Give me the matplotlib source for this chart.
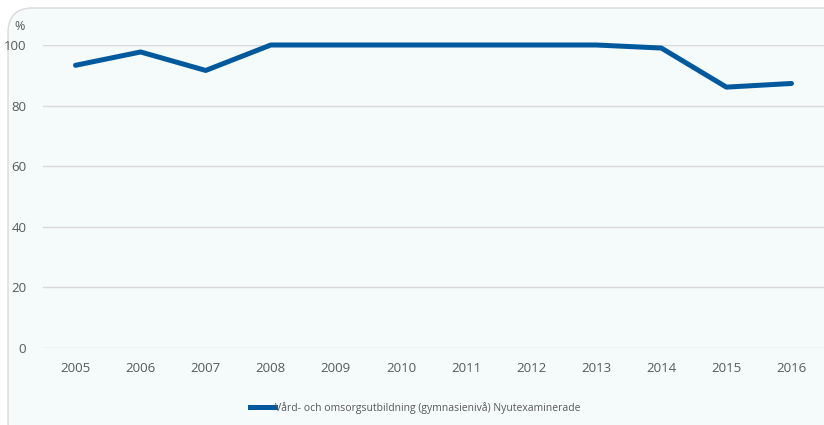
import matplotlib
matplotlib.use("Agg")
import matplotlib.pyplot as plt
from matplotlib.patches import FancyBboxPatch
from matplotlib.lines import Line2D

years = ["2005", "2006", "2007", "2008", "2009", "2010", "2011", "2012", "2013", "2014", "2015", "2016"]
values = [93.3, 97.7, 91.6, 100.0, 100.0, 100.0, 100.0, 100.0, 100.0, 99.0, 86.1, 87.3]
series_name = "Vård- och omsorgsutbildning (gymnasienivå) Nyutexaminerade"
yticks = [0, 20, 40, 60, 80, 100]

W, H = 824, 425
fig = plt.figure(figsize=(W / 100, H / 100), dpi=100)
fig.patch.set_facecolor("white")

y0 = -0.05
y1 = 1 - 8 / H
bg = FancyBboxPatch((8 / W, y0), 1.1, y1 - y0,
                    boxstyle="round,pad=0,rounding_size=0.03",
                    transform=fig.transFigure, facecolor="#F5FAFB", edgecolor="#D9D9D9",
                    linewidth=1.0, mutation_aspect=W / H, zorder=-10)
fig.patches.append(bg)

ax = fig.add_axes([43 / W, (H - 348) / H, (W - 43) / W, (348 - 45) / H])
ax.set_facecolor("none")
x = list(range(len(years)))
ax.plot(x, values, color="#00599C", linewidth=3.6, solid_capstyle="round", solid_joinstyle="round",
        clip_on=False)
ax.set_xlim(-0.5, len(years) - 0.5)
ax.set_ylim(0, 100)
ax.set_yticks(yticks)
ax.set_xticks(x)
ax.set_xticklabels(years)
for s in ax.spines.values():
    s.set_visible(False)
ax.grid(axis="y", color="#D9D9D9", linewidth=1.0)
ax.set_axisbelow(True)
ax.tick_params(axis="both", length=0, labelsize=9.5, labelcolor="#595959")
ax.tick_params(axis="y", pad=12)
ax.tick_params(axis="x", pad=10)
for t in ax.get_xticklabels() + ax.get_yticklabels():
    t.set_fontfamily("Open Sans")

fig.text(20 / W, 1 - 27 / H, "%", fontsize=9, color="#595959", ha="center", va="center", family="Open Sans")

handle = Line2D([], [], color="#00599C", linewidth=3.6)
leg = fig.legend([handle], [series_name], loc="center", bbox_to_anchor=(415 / W, 1 - 408 / H),
                 frameon=False, handlelength=2.4, handletextpad=0.0,
                 prop={"family": "Open Sans", "size": 7.5})
for t in leg.get_texts():
    t.set_color("#595959")

fig.savefig("out.png", dpi=100)
